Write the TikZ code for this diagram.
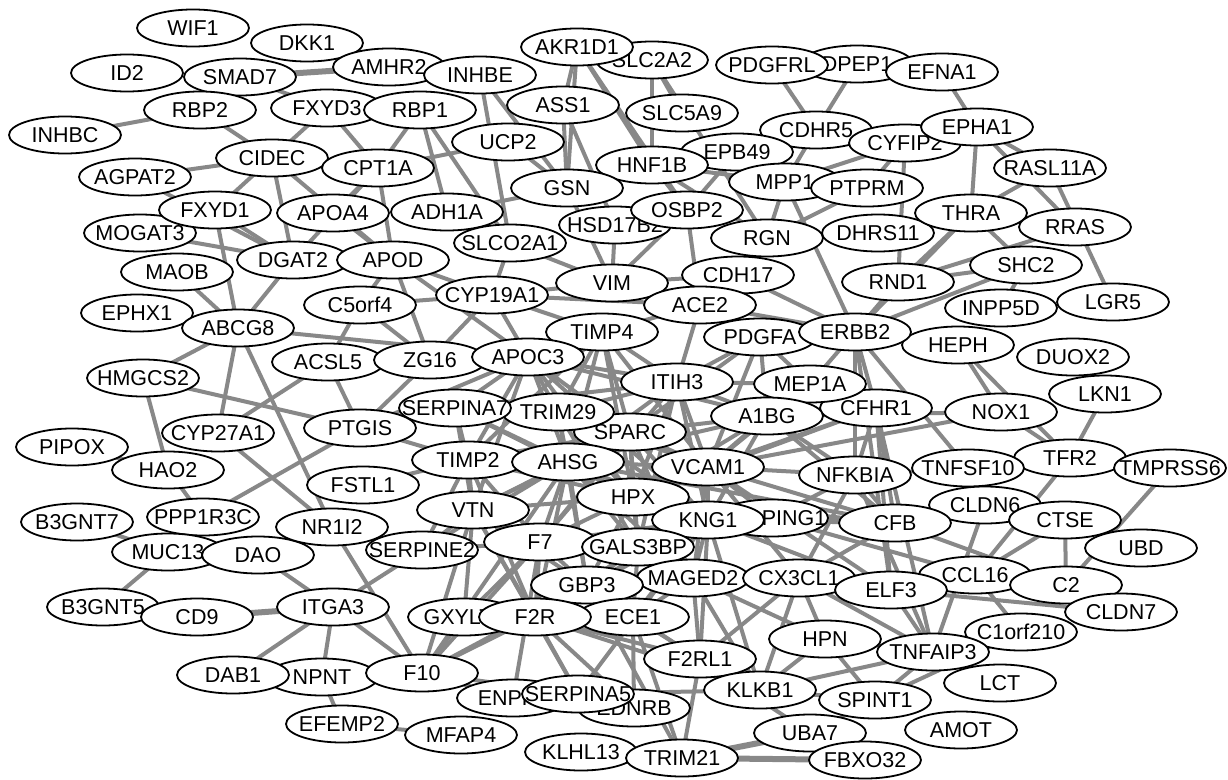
\documentclass[tikz,border=0pt]{standalone}
\usepackage{fontspec}
\newfontfamily\genefamily{Liberation Sans}
\usetikzlibrary{shapes.geometric}
\pgfdeclarelayer{edgelayer}
\pgfsetlayers{edgelayer,main}
\definecolor{edgegray}{RGB}{136,136,136}
\newcommand\glab[1]{\makebox[0pt]{\smash{\raisebox{-0.36em}{#1}}}}
\tikzset{
  gene/.style={ellipse, draw=black, line width=1.8pt, fill=white,
    minimum width=112pt, minimum height=37pt, inner sep=0pt,
    font=\genefamily\fontsize{21.5}{21.5}\selectfont},
  edge/.style={draw=edgegray, line width=4pt},
  thickedge/.style={draw=edgegray, line width=6pt}
}
\begin{document}
\begin{tikzpicture}[x=1pt,y=-1pt]
\useasboundingbox (0,0) rectangle (1228,779);
\foreach \n/\x/\y in {
 WIF1/193/28, DKK1/307/43, AMHR2/389/67, INHBE/480/75, ID2/127/73, SMAD7/240/77,
 RBP2/200/110, INHBC/65/135, FXYD3/327/108, RBP1/420/110, SLC2A2/652/60, AKR1D1/577/47,
 ASS1/563/105, SLC5A9/682/113, DPEP1/857/64, PDGFRL/772/65, EFNA1/942/72,
 CDHR5/816/130, CYFIP2/905/143, EPHA1/977/127, EPB49/737/152, HNF1B/652/165,
 MPP1/785/182, PTPRM/867/188, UCP2/508/142, CIDEC/272/158, CPT1A/378/168,
 AGPAT2/135/177, GSN/567/188, HSD17B2/615/225, OSBP2/687/210, RASL11A/1050/168,
 MOGAT3/140/233, FXYD1/215/210, APOA4/333/213, ADH1A/447/212, RGN/767/238,
 DHRS11/878/233, THRA/971/213, RRAS/1075/227, SLCO2A1/510/243, DGAT2/293/260,
 APOD/393/260, MAOB/177/272, SHC2/1026/265, VIM/612/283, CDH17/738/275, ACE2/700/305,
 RND1/898/282, CYP19A1/492/295, C5orf4/360/305, LGR5/1113/302, INPP5D/1001/308,
 EPHX1/137/313, ABCG8/238/328, TIMP4/602/332, PDGFA/760/337, HEPH/958/345,
 ERBB2/855/332, ACSL5/328/362, ZG16/430/360, APOC3/528/357, DUOX2/1073/357,
 HMGCS2/143/378, ITIH3/677/382, CFHR1/876/408, MEP1A/810/384, A1BG/767/416,
 LKN1/1105/394, NOX1/1001/412, SPARC/630/432, TRIM29/558/412, SERPINA7/455/408,
 PTGIS/360/428, CYP27A1/218/433, PIPOX/72/447, HAO2/168/470, TIMP2/468/460,
 AHSG/568/462, VCAM1/708/467, HPX/633/497, TFR2/1070/458, TMPRSS6/1170/468,
 NFKBIA/855/475, TNFSF10/968/468, CLDN6/985/505, CTSE/1065/520, CFB/895/523,
 SERPING1/772/518, KNG1/708/520, FSTL1/363/485, VTN/473/510, PPP1R3C/203/517,
 B3GNT7/77/522, MUC13/168/552, DAO/258/555, NR1I2/332/527, SERPINE2/422/550,
 F7/540/542, GALS3BP/638/547, MAGED2/693/578, CX3CL1/799/578, UBD/1141/548,
 CCL16/975/575, ELF3/891/590, C2/1066/585, CLDN7/1121/612, GBP3/587/585,
 ECE1/633/617, GXYLT2/464/617, F2R/535/617, B3GNT5/103/607, CD9/197/617,
 ITGA3/333/607, C1orf210/1021/632, HPN/825/639, TNFAIP3/933/652, F2RL1/700/659,
 KLKB1/760/690, NPNT/322/677, DAB1/233/675, F10/422/673, LCT/1000/683,
 ENPP2/513/698, EDNRB/634/708, SERPINA5/578/694, UBA7/810/733, SPINT1/875/700,
 FBXO32/865/760, AMOT/961/730, EFEMP2/342/724, MFAP4/461/735, KLHL13/581/752,
 TRIM21/682/758}
  \node[gene] (\n) at (\x,\y) {\glab{\n}};
\begin{pgfonlayer}{edgelayer}
\foreach \a/\b in {SMAD7/AMHR2, CD9/ITGA3, TRIM21/FBXO32, TRIM21/UBA7}
  \draw[thickedge] (\a.center) -- (\b.center);
\foreach \a/\b in {
 INHBC/RBP2, RBP2/CIDEC, SMAD7/FXYD3, FXYD3/CIDEC, FXYD3/CPT1A, RBP1/CPT1A,
 RBP1/ADH1A, RBP1/SLCO2A1, AGPAT2/CIDEC, CIDEC/FXYD1, CIDEC/DGAT2, CIDEC/APOD,
 AGPAT2/DGAT2, MOGAT3/DGAT2, FXYD1/DGAT2, FXYD1/ABCG8, MAOB/ABCG8, DGAT2/ABCG8,
 DGAT2/CPT1A, APOA4/CPT1A, CPT1A/APOD, UCP2/CPT1A, APOA4/APOD,
 AKR1D1/ASS1, AKR1D1/GSN, AKR1D1/HNF1B, AKR1D1/OSBP2, SLC2A2/HNF1B, SLC2A2/SLC5A9,
 SLC2A2/RGN, INHBE/GSN, INHBE/SLCO2A1, ASS1/GSN, ASS1/HSD17B2, UCP2/GSN, ADH1A/GSN,
 GSN/VIM, HSD17B2/VIM, SLCO2A1/CYP19A1, SLCO2A1/VIM, OSBP2/VIM, OSBP2/ACE2,
 HNF1B/MPP1, HNF1B/OSBP2, HNF1B/RGN, EPB49/OSBP2, MPP1/RGN, MPP1/CDHR5, MPP1/CYFIP2,
 PTPRM/CYFIP2, PTPRM/RGN, MPP1/ERBB2, CYFIP2/RND1, PDGFRL/CDHR5, DPEP1/CDHR5,
 CDH17/ERBB2, VIM/CDH17, ACE2/ERBB2, ACE2/CDH17, VIM/ACE2, CYP19A1/ACE2, CYP19A1/VIM,
 THRA/RND1, THRA/ERBB2, RRAS/RND1, SHC2/ERBB2, SHC2/INPP5D, THRA/SHC2, RASL11A/THRA,
 RASL11A/LGR5, EPHA1/THRA, EPHA1/RASL11A, EPHA1/RRAS, EFNA1/EPHA1, RND1/ERBB2, SHC2/RND1,
 ERBB2/MEP1A, ERBB2/CFHR1, ERBB2/TNFSF10, ERBB2/NFKBIA, ERBB2/ELF3, ERBB2/PDGFA,
 HEPH/NOX1, HEPH/TFR2, LKN1/TFR2, NOX1/TFR2, A1BG/NOX1,
 CFHR1/CFB, CFHR1/NFKBIA, CFHR1/ELF3, CFHR1/TNFAIP3, CLDN6/TNFAIP3, CTSE/CCL16, CTSE/C2,
 TFR2/CCL16, TMPRSS6/C2, SERPING1/CCL16, CX3CL1/CCL16, ELF3/CLDN7, CCL16/CLDN7, CFB/C2,
 NFKBIA/TNFAIP3, HPN/SPINT1, SPINT1/C1orf210, KLKB1/TNFAIP3, ELF3/TNFAIP3, CCL16/C1orf210,
 APOD/C5orf4, APOD/CYP19A1, APOD/ZG16, APOD/APOC3, ABCG8/APOC3, HMGCS2/ABCG8,
 ABCG8/CYP27A1, ABCG8/NR1I2, C5orf4/ACSL5, C5orf4/ZG16, C5orf4/CYP19A1, ACSL5/PTGIS,
 CYP19A1/ZG16, CYP19A1/APOC3, CYP19A1/TIMP4, ZG16/PTGIS,
 HMGCS2/PTGIS, HMGCS2/HAO2, CYP27A1/ACSL5, CYP27A1/NR1I2, PIPOX/HAO2, HAO2/PPP1R3C,
 PPP1R3C/PTGIS, B3GNT7/MUC13, MUC13/B3GNT5, DAO/ITGA3, ITGA3/DAB1, ITGA3/NPNT,
 ITGA3/F10, NPNT/EFEMP2, EFEMP2/MFAP4, ITGA3/SERPINE2, F10/VTN, NR1I2/F10, PTGIS/TIMP2,
 FSTL1/TIMP2, PTGIS/APOC3, PTGIS/SERPINA7,
 APOC3/TIMP4, APOC3/ITIH3, APOC3/SERPINA7, APOC3/TRIM29, APOC3/AHSG, APOC3/SPARC,
 APOC3/TIMP2, APOC3/HPX, APOC3/VTN, APOC3/A1BG, APOC3/KNG1,
 TIMP4/TIMP2, TIMP4/SPARC, TIMP4/AHSG, TIMP4/VCAM1, TIMP4/ITIH3, TIMP4/ACE2, TIMP4/TRIM29, TIMP4/HPX,
 ITIH3/AHSG, ITIH3/HPX, ITIH3/A1BG, ITIH3/KNG1, ITIH3/VCAM1, ITIH3/SERPINA7, ITIH3/TRIM29,
 ITIH3/GALS3BP, ITIH3/F7, ITIH3/PDGFA, ITIH3/MEP1A, ITIH3/ACE2,
 SERPINA7/AHSG, SERPINA7/HPX, SERPINA7/TIMP2, SERPINA7/VTN,
 TRIM29/AHSG, TRIM29/HPX, TRIM29/VCAM1, TRIM29/KNG1, TRIM29/GALS3BP, TRIM29/GBP3,
 SPARC/AHSG, SPARC/TIMP2, SPARC/VCAM1, SPARC/HPX, SPARC/KNG1, SPARC/VTN, SPARC/F7,
 SPARC/GALS3BP, SPARC/MAGED2, SPARC/A1BG, SPARC/PDGFA,
 TIMP2/VTN, TIMP2/HPX, TIMP2/F7, TIMP2/SERPINE2, TIMP2/F2R,
 AHSG/HPX, AHSG/VTN, AHSG/KNG1, AHSG/F7, AHSG/GALS3BP, AHSG/A1BG, AHSG/GBP3, AHSG/F2R,
 AHSG/VCAM1, AHSG/MAGED2, AHSG/CFB, AHSG/SERPINE2, AHSG/F10,
 HPX/KNG1, HPX/VCAM1, HPX/A1BG, HPX/GALS3BP, HPX/F7, HPX/VTN, HPX/CFB, HPX/CFHR1, HPX/GBP3,
 VCAM1/KNG1, VCAM1/A1BG, VCAM1/MEP1A, VCAM1/CFHR1, VCAM1/NFKBIA, VCAM1/SERPING1,
 VCAM1/CX3CL1, VCAM1/ELF3, VCAM1/MAGED2, VCAM1/CFB, VCAM1/NOX1,
 KNG1/F7, KNG1/F2R, KNG1/KLKB1, KNG1/A1BG, KNG1/CFB, KNG1/F10, KNG1/SERPINA5, KNG1/F2RL1,
 KNG1/GALS3BP, KNG1/MAGED2, KNG1/ECE1, KNG1/ELF3,
 VTN/F7, VTN/SERPINE2, VTN/F2R, VTN/GXYLT2, VTN/GBP3, VTN/SERPINA5,
 F7/F10, F7/F2R, F7/GBP3, F7/SERPINE2, F7/GXYLT2, F7/ENPP2,
 GALS3BP/GBP3, GALS3BP/ECE1, GALS3BP/F2R,
 GBP3/F2R, GBP3/ECE1, GBP3/TRIM21, GBP3/UBA7,
 MAGED2/CX3CL1, MAGED2/F2RL1, MAGED2/ECE1, MAGED2/KLKB1, MAGED2/HPN,
 F2R/F2RL1, F2R/F10, F2R/SERPINA5, F2R/ECE1, F2R/EDNRB, F2R/KLKB1,
 F10/GXYLT2, F10/SERPINA5, F10/ENPP2,
 A1BG/MEP1A, A1BG/CFHR1, A1BG/PDGFA, A1BG/NFKBIA, A1BG/CFB,
 SERPING1/CFB, SERPING1/NFKBIA,
 CX3CL1/ELF3, CX3CL1/CFB, CX3CL1/TNFAIP3, CX3CL1/F2RL1, CX3CL1/KLKB1, CX3CL1/HPN,
 ECE1/EDNRB, ECE1/TRIM21, ECE1/F2RL1,
 KLKB1/F2RL1, KLKB1/HPN, KLKB1/SPINT1, SERPINA5/KLKB1,
 HPN/TNFAIP3, SPINT1/TNFAIP3, SPINT1/UBA7,
 NFKBIA/CFB, NFKBIA/TNFSF10, NFKBIA/CX3CL1,
 TRIM21/F2RL1, PDGFA/ACE2, PDGFA/MEP1A, PDGFA/VCAM1}
  \draw[edge] (\a.center) -- (\b.center);
\end{pgfonlayer}
\end{tikzpicture}
\end{document}
